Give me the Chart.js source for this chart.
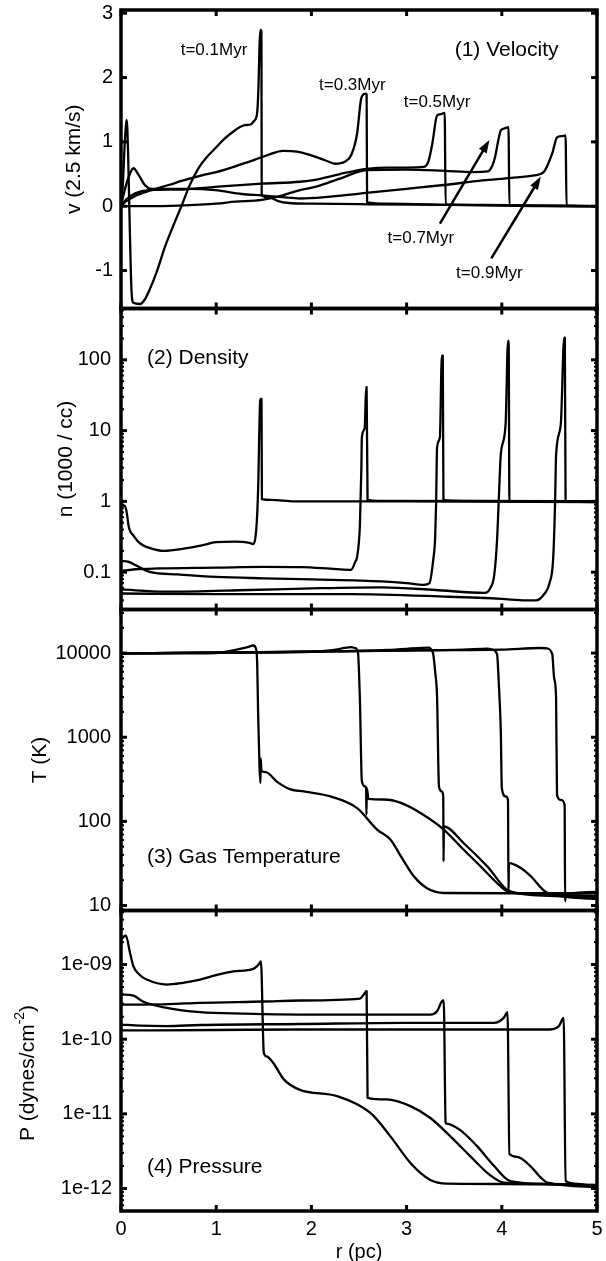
<!DOCTYPE html>
<html>
<head>
<meta charset="utf-8">
<title>Expansion profiles</title>
<script src="https://cdn.jsdelivr.net/npm/chart.js@4.4.1/dist/chart.umd.min.js"></script>
<style>
  html, body { margin:0; padding:0; background:#ffffff; }
  #wrap { position:relative; width:606px; height:1261px; overflow:hidden; background:#fff; }
  #wrap canvas { position:absolute; left:0; top:0; }
</style>
</head>
<body>
<div id="wrap">
  <canvas id="cVel" width="606" height="1261"></canvas>
  <canvas id="cDen" width="606" height="1261"></canvas>
  <canvas id="cTem" width="606" height="1261"></canvas>
  <canvas id="cPre" width="606" height="1261"></canvas>
</div>
<script>
// ---------------- data ----------------
const timeLabels = ['t=0.1Myr','t=0.3Myr','t=0.5Myr','t=0.7Myr','t=0.9Myr'];
const panelLabels = ['(1) Velocity','(2) Density','(3) Gas Temperature','(4) Pressure'];
const xTicks = [0,1,2,3,4,5];
const vTicks = [-1,0,1,2,3];
const vTickLabels = ['-1','0','1','2','3'];
const nTicks = [0.1,1,10,100];
const nTickLabels = ['0.1','1','10','100'];
const TTicks = [10,100,1000,10000];
const TTickLabels = ['10','100','1000','10000'];
const PTicks = [1e-12,1e-11,1e-10,1e-9];
const PTickLabels = ['1e-12','1e-11','1e-10','1e-09'];

// velocity (units of 2.5 km/s) vs r (pc)
const vel01 = [[0,0],[0.02,0.35],[0.04,1.0],[0.06,1.34],[0.075,0.8],[0.09,-0.2],[0.11,-1.3],[0.13,-1.5],[0.2,-1.52],[0.25,-1.45],[0.3,-1.3],[0.38,-1.0],[0.46,-0.64],[0.55,-0.3],[0.64,0.02],[0.72,0.32],[0.81,0.58],[0.9,0.76],[0.99,0.9],[1.08,1.04],[1.17,1.15],[1.25,1.23],[1.3,1.26],[1.36,1.27],[1.4,1.33],[1.43,1.45],[1.445,1.9],[1.455,2.5],[1.465,2.74],[1.475,2.72],[1.478,0.17],[1.55,0.14],[1.65,0.08],[1.76,0.05],[2.0,0.04],[2.6,0.03],[3.4,0.02],[4.1,0.01],[5,0]];
const vel03 = [[0,0],[0.05,0.07],[0.15,0.16],[0.3,0.24],[0.5,0.33],[0.7,0.42],[0.85,0.48],[1.0,0.53],[1.2,0.62],[1.4,0.72],[1.55,0.8],[1.7,0.86],[1.85,0.85],[2.0,0.79],[2.15,0.71],[2.25,0.66],[2.35,0.69],[2.42,0.8],[2.48,1.13],[2.52,1.65],[2.54,1.73],[2.57,1.75],[2.58,1.74],[2.585,0.06],[2.8,0.04],[3.5,0.02],[4.2,0.01],[5,0]];
const vel05 = [[0,0],[0.05,0.1],[0.15,0.2],[0.29,0.25],[0.64,0.26],[0.99,0.3],[1.48,0.35],[1.88,0.38],[2.04,0.41],[2.3,0.5],[2.58,0.58],[2.8,0.6],[3.0,0.6],[3.18,0.61],[3.23,0.7],[3.27,0.97],[3.32,1.41],[3.36,1.43],[3.4,1.45],[3.41,0.03],[3.8,0.02],[4.4,0.01],[5,0]];
const vel07 = [[0,0],[0.3,0.0],[0.6,0.01],[1.0,0.04],[1.2,0.07],[1.48,0.1],[1.7,0.17],[1.88,0.25],[2.04,0.3],[2.3,0.43],[2.58,0.56],[3.0,0.57],[3.4,0.55],[3.7,0.53],[3.85,0.54],[3.9,0.63],[3.93,0.77],[3.96,1.0],[3.99,1.18],[4.03,1.21],[4.07,1.23],[4.08,0.01],[5,0]];
const vel09 = [[0,0],[0.03,0.2],[0.08,0.45],[0.13,0.59],[0.18,0.5],[0.25,0.33],[0.32,0.27],[0.5,0.27],[0.71,0.27],[0.99,0.25],[1.27,0.19],[1.48,0.17],[1.7,0.14],[1.88,0.12],[2.2,0.15],[2.6,0.21],[3.0,0.27],[3.39,0.33],[3.8,0.4],[4.1,0.44],[4.34,0.48],[4.44,0.53],[4.53,0.82],[4.58,1.07],[4.63,1.09],[4.67,1.1],[4.68,0.01],[5,0]];

// density (1000 / cc)
const den01 = [[0,0.82],[0.02,0.86],[0.04,0.87],[0.06,0.7],[0.08,0.45],[0.1,0.37],[0.13,0.33],[0.18,0.27],[0.23,0.24],[0.3,0.22],[0.45,0.2],[0.66,0.215],[0.85,0.24],[1.0,0.265],[1.2,0.27],[1.35,0.26],[1.39,0.25],[1.425,0.48],[1.44,1.43],[1.462,26],[1.47,28],[1.476,28],[1.48,1.08],[1.58,1.05],[1.82,1.0],[3.0,1.0],[5,0.98]];
const den03 = [[0,0.104],[0.15,0.11],[0.4,0.113],[1.0,0.116],[1.5,0.119],[1.9,0.118],[2.2,0.112],[2.39,0.108],[2.42,0.109],[2.46,0.14],[2.48,0.165],[2.51,0.48],[2.525,3],[2.53,8],[2.56,11],[2.575,41],[2.58,41],[2.59,1.05],[2.7,1.02],[5,1.0]];
const den05 = [[0,0.144],[0.08,0.14],[0.18,0.12],[0.3,0.101],[0.6,0.093],[1.0,0.086],[1.5,0.082],[2.0,0.079],[2.74,0.074],[3.0,0.07],[3.18,0.066],[3.24,0.07],[3.28,0.15],[3.3,0.31],[3.31,0.93],[3.32,5.8],[3.35,8.1],[3.37,115],[3.38,115],[3.387,1.05],[3.6,1.02],[5,1.0]];
const den07 = [[0,0.057],[0.46,0.053],[1.34,0.056],[2.0,0.059],[2.74,0.061],[3.3,0.056],[3.82,0.051],[3.88,0.06],[3.92,0.09],[3.95,0.28],[3.97,1.2],[3.99,4.7],[4.04,12.4],[4.065,185],[4.072,185],[4.08,1.0],[5,1.0]];
const den09 = [[0,0.05],[1.0,0.049],[2.4,0.049],[3.44,0.045],[4.0,0.042],[4.25,0.04],[4.36,0.04],[4.45,0.05],[4.5,0.069],[4.54,0.16],[4.56,1.0],[4.57,4.45],[4.62,12.4],[4.655,205],[4.662,205],[4.67,1.0],[5,0.98]];

// gas temperature (K)
const tem01 = [[0,9900],[0.5,9900],[1.0,10000],[1.18,10800],[1.32,11700],[1.39,12300],[1.415,11500],[1.43,8000],[1.44,2000],[1.448,900],[1.455,450],[1.465,285],[1.468,560],[1.475,400],[1.52,385],[1.64,295],[1.78,240],[1.92,227],[2.2,198],[2.48,144],[2.69,80],[2.83,61],[2.94,38.5],[3.08,22],[3.21,16.2],[3.39,14.1],[4.0,14],[5,14]];
const tem03 = [[0,9900],[1.0,10100],[1.92,10300],[2.2,10800],[2.35,11500],[2.41,11800],[2.46,11500],[2.49,10000],[2.5,6000],[2.51,2700],[2.53,300],[2.565,260],[2.575,240],[2.578,120],[2.582,250],[2.6,185],[2.76,182],[2.94,166],[3.15,125],[3.39,80],[3.6,46],[3.78,29],[3.95,18.5],[4.08,14.4],[4.5,13.5],[5,13]];
const tem05 = [[0,9900],[1.0,10100],[2.0,10400],[2.8,10900],[3.15,11500],[3.23,11600],[3.27,10500],[3.28,9700],[3.3,6000],[3.32,3000],[3.34,260],[3.37,227],[3.385,200],[3.388,33.5],[3.392,87],[3.6,55],[3.85,29],[4.08,14.8],[4.5,13],[5,12.5]];
const tem07 = [[0,9900],[2.0,10400],[3.0,10700],[3.6,11000],[3.85,11300],[3.9,11000],[3.95,9700],[3.97,4000],[3.99,1120],[4.0,250],[4.04,198],[4.065,180],[4.07,14],[4.075,32],[4.2,28],[4.31,22],[4.45,14.8],[4.6,13],[5,12]];
const tem09 = [[0,9900],[2.0,10400],[3.0,10800],[4.0,11000],[4.4,11500],[4.47,11400],[4.53,9700],[4.55,5000],[4.57,3000],[4.58,205],[4.62,180],[4.66,157],[4.665,11.2],[4.67,13.5],[5,14.5]];

// pressure (dynes / cm^2)
const pre01 = [[0,2.16e-9],[0.05,2.45e-9],[0.095,1.43e-9],[0.13,0.95e-9],[0.2,0.72e-9],[0.27,0.63e-9],[0.48,0.54e-9],[0.65,0.57e-9],[0.83,0.63e-9],[1.0,0.72e-9],[1.18,0.81e-9],[1.39,0.875e-9],[1.445,1.0e-9],[1.47,1.1e-9],[1.5,6.6e-11],[1.53,5.9e-11],[1.6,4.8e-11],[1.71,2.9e-11],[1.88,2.1e-11],[2.27,1.73e-11],[2.62,1.03e-11],[2.83,5.0e-12],[3.04,2.2e-12],[3.25,1.3e-12],[3.42,1.16e-12],[4.0,1.15e-12],[5,1.12e-12]];
const pre03 = [[0,2.9e-10],[0.5,2.95e-10],[0.83,3.07e-10],[1.5,3.2e-10],[1.88,3.3e-10],[2.51,3.5e-10],[2.55,3.97e-10],[2.58,4.4e-10],[2.59,1.64e-11],[2.79,1.56e-11],[3.04,1.27e-11],[3.25,8.8e-12],[3.46,5.0e-12],[3.67,2.7e-12],[3.88,1.5e-12],[4.02,1.2e-12],[4.5,1.15e-12],[5,1.1e-12]];
const pre05 = [[0,3.97e-10],[0.13,3.84e-10],[0.23,3.2e-10],[0.48,2.63e-10],[0.83,2.3e-10],[1.3,2.2e-10],[1.88,2.14e-10],[2.6,2.14e-10],[3.25,2.14e-10],[3.32,2.37e-10],[3.37,3.2e-10],[3.39,3.3e-10],[3.41,7.6e-12],[3.42,7.4e-12],[3.56,6.1e-12],[3.74,3.7e-12],[3.92,2.0e-12],[4.09,1.26e-12],[4.5,1.15e-12],[5,1.1e-12]];
const pre07 = [[0,1.57e-10],[0.2,1.52e-10],[0.48,1.5e-10],[0.83,1.55e-10],[1.88,1.6e-10],[2.97,1.66e-10],[3.92,1.66e-10],[4.02,1.93e-10],[4.06,2.3e-10],[4.08,2.9e-12],[4.16,2.66e-12],[4.3,2.0e-12],[4.41,1.4e-12],[4.48,1.2e-12],[5,1.05e-12]];
const pre09 = [[0,1.31e-10],[1.0,1.33e-10],[1.88,1.35e-10],[3.0,1.35e-10],[4.51,1.35e-10],[4.6,1.5e-10],[4.65,1.93e-10],[4.67,1.26e-12],[4.8,1.15e-12],[5,1.0e-12]];

// ---------------- layout ----------------
const FONT = "'Liberation Sans', Arial, Helvetica, sans-serif";
const W = 606, H = 1261, PLOT_L = 121, PLOT_R = 597;
const panelBox = [[10, 308.5], [308.5, 609.5], [609.5, 910.5], [910.5, 1211]];

const frame = {
  id: 'frame',
  afterDatasetsDraw(chart, args, opts) {
    const { ctx, chartArea: a } = chart;
    const xs = chart.scales.x, ys = chart.scales.y;
    const seg = (x1, y1, x2, y2) => { ctx.beginPath(); ctx.moveTo(x1, y1); ctx.lineTo(x2, y2); ctx.stroke(); };
    ctx.save();
    ctx.strokeStyle = '#000';
    ctx.lineWidth = 3;
    xTicks.forEach(v => {
      const p = xs.getPixelForValue(v);
      seg(p, a.top, p, a.top + 6);
      seg(p, a.bottom, p, a.bottom - 6);
    });
    (opts.major || []).forEach(v => {
      const p = ys.getPixelForValue(v);
      seg(a.left, p, a.left + 6, p);
      seg(a.right, p, a.right - 6, p);
    });
    if (ys.type === 'logarithmic') {
      ctx.lineWidth = 2;
      const lo = Math.floor(Math.log10(ys.min)), hi = Math.ceil(Math.log10(ys.max));
      for (let d = lo; d <= hi; d++) {
        for (let k = 2; k <= 9; k++) {
          const v = k * Math.pow(10, d);
          if (v <= ys.min || v >= ys.max) continue;
          const p = ys.getPixelForValue(v);
          seg(a.left, p, a.left + 3, p);
          seg(a.right, p, a.right - 3, p);
        }
      }
    }
    ctx.lineWidth = 3.5;
    ctx.strokeRect(a.left, a.top, a.right - a.left, a.bottom - a.top);
    ctx.restore();
  }
};

const notes = {
  id: 'notes',
  afterDatasetsDraw(chart, args, opts) {
    const { ctx } = chart;
    const xs = chart.scales.x, ys = chart.scales.y;
    ctx.save();
    ctx.fillStyle = '#000';
    ctx.strokeStyle = '#000';
    ctx.textBaseline = 'middle';
    (opts.texts || []).forEach(t => {
      ctx.font = t.font;
      ctx.textAlign = t.align || 'left';
      ctx.fillText(t.text, xs.getPixelForValue(t.x), ys.getPixelForValue(t.y));
    });
    (opts.arrows || []).forEach(ar => {
      const x0 = xs.getPixelForValue(ar.from[0]), y0 = ys.getPixelForValue(ar.from[1]);
      const x1 = xs.getPixelForValue(ar.to[0]), y1 = ys.getPixelForValue(ar.to[1]);
      const ang = Math.atan2(y1 - y0, x1 - x0), c = Math.cos(ang), s = Math.sin(ang);
      const hl = 13, hw = 4.5;
      ctx.lineWidth = 2.5;
      ctx.beginPath(); ctx.moveTo(x0, y0); ctx.lineTo(x1 - hl * 0.8 * c, y1 - hl * 0.8 * s); ctx.stroke();
      ctx.beginPath();
      ctx.moveTo(x1, y1);
      ctx.lineTo(x1 - hl * c + hw * s, y1 - hl * s - hw * c);
      ctx.lineTo(x1 - hl * c - hw * s, y1 - hl * s + hw * c);
      ctx.closePath(); ctx.fill();
    });
    if (opts.supTitle) {
      const t = opts.supTitle;
      ctx.translate(t.cx, t.cy);
      ctx.rotate(-Math.PI / 2);
      ctx.textAlign = 'left';
      const big = '21px ' + FONT, small = '14px ' + FONT;
      ctx.font = big;
      const w1 = ctx.measureText(t.main).width, w3 = ctx.measureText(t.tail).width;
      ctx.font = small;
      const w2 = ctx.measureText(t.sup).width;
      let x = -(w1 + w2 + w3) / 2;
      ctx.font = big; ctx.fillText(t.main, x, 0); x += w1;
      ctx.font = small; ctx.fillText(t.sup, x, -8); x += w2;
      ctx.font = big; ctx.fillText(t.tail, x, 0);
    }
    ctx.restore();
  }
};

function makePanel(canvasId, idx, cfg) {
  const [top, bottom] = panelBox[idx];
  const last = idx === 3;
  const xAxisH = last ? 50 : 0;
  return new Chart(document.getElementById(canvasId), {
    type: 'line',
    data: {
      datasets: cfg.series.map((s, i) => ({
        label: timeLabels[i],
        data: s.map(p => ({ x: p[0], y: p[1] })),
        borderColor: '#000',
        borderWidth: 2.3,
        pointRadius: 0,
        cubicInterpolationMode: 'monotone',
        fill: false,
        borderJoinStyle: 'round',
        borderCapStyle: 'round'
      }))
    },
    options: {
      responsive: false,
      animation: false,
      devicePixelRatio: 1,
      events: [],
      layout: { padding: { left: 0, right: W - PLOT_R, top: top, bottom: H - bottom - xAxisH } },
      plugins: {
        legend: { display: false },
        tooltip: { enabled: false },
        frame: { major: cfg.yTicks },
        notes: cfg.notes
      },
      scales: {
        x: {
          type: 'linear', min: 0, max: 5, position: 'bottom',
          grid: { display: false, drawTicks: false },
          border: { display: false },
          ticks: { display: last, padding: 6, autoSkip: false, maxRotation: 0, color: '#000',
                   font: { family: FONT, size: 20 }, callback: v => String(v) },
          afterBuildTicks: s => { s.ticks = xTicks.map(v => ({ value: v })); },
          afterFit: s => { s.height = xAxisH; s.paddingLeft = 0; s.paddingRight = 0; },
          title: { display: last, text: 'r (pc)', color: '#000',
                   font: { family: FONT, size: 20, lineHeight: 1 }, padding: { top: 0, bottom: -1 } }
        },
        y: {
          type: cfg.yType, min: cfg.yMin, max: cfg.yMax, position: 'left',
          grid: { display: false, drawTicks: false },
          border: { display: false },
          ticks: { padding: cfg.tickPad, autoSkip: false, color: '#000',
                   font: { family: FONT, size: 20 },
                   callback: (v, i) => cfg.yLabels[i] },
          afterBuildTicks: s => { s.ticks = cfg.yTicks.map(v => ({ value: v })); },
          afterFit: s => { s.width = PLOT_L; s.paddingTop = 0; s.paddingBottom = 0; },
          title: cfg.yTitle
            ? { display: true, text: cfg.yTitle, color: '#000',
                font: { family: FONT, size: 21, lineHeight: 1 }, padding: { top: cfg.titlePad, bottom: 0 } }
            : { display: false }
        }
      }
    },
    plugins: [frame, notes]
  });
}

const tFont = '17px ' + FONT, pFont = '21px ' + FONT;

makePanel('cVel', 0, {
  series: [vel01, vel03, vel05, vel07, vel09],
  yType: 'linear', yMin: -1.59, yMax: 3.05,
  yTicks: vTicks, yLabels: vTickLabels, tickPad: 8,
  yTitle: 'v (2.5 km/s)', titlePad: 64,
  notes: {
    texts: [
      { text: panelLabels[0], x: 3.505, y: 2.43, align: 'left', font: pFont },
      { text: timeLabels[0], x: 0.977, y: 2.43, align: 'center', font: tFont },
      { text: timeLabels[1], x: 2.43, y: 1.88, align: 'center', font: tFont },
      { text: timeLabels[2], x: 3.32, y: 1.62, align: 'center', font: tFont },
      { text: timeLabels[3], x: 3.15, y: -0.50, align: 'center', font: tFont },
      { text: timeLabels[4], x: 3.87, y: -1.04, align: 'center', font: tFont }
    ],
    arrows: [
      { from: [3.35, -0.27], to: [3.87, 1.03] },
      { from: [3.89, -0.81], to: [4.41, 0.46] }
    ]
  }
});

makePanel('cDen', 1, {
  series: [den01, den03, den05, den07, den09],
  yType: 'logarithmic', yMin: 0.0297, yMax: 531,
  yTicks: nTicks, yLabels: nTickLabels, tickPad: 10,
  yTitle: 'n (1000 / cc)', titlePad: 56,
  notes: { texts: [{ text: panelLabels[1], x: 0.273, y: 104, align: 'left', font: pFont }] }
});

makePanel('cTem', 2, {
  series: [tem01, tem03, tem05, tem07, tem09],
  yType: 'logarithmic', yMin: 8.73, yMax: 32960,
  yTicks: TTicks, yLabels: TTickLabels, tickPad: 10,
  yTitle: 'T (K)', titlePad: 30,
  notes: { texts: [{ text: panelLabels[2], x: 0.273, y: 38, align: 'left', font: pFont }] }
});

makePanel('cPre', 3, {
  series: [pre01, pre03, pre05, pre07, pre09],
  yType: 'logarithmic', yMin: 5.0e-13, yMax: 5.3e-9,
  yTicks: PTicks, yLabels: PTickLabels, tickPad: 9,
  yTitle: null, titlePad: 0,
  notes: {
    texts: [{ text: panelLabels[3], x: 0.273, y: 1.95e-12, align: 'left', font: pFont }],
    supTitle: { main: 'P (dynes/cm', sup: '-2', tail: ')', cx: 28, cy: 1073 }
  }
});
</script>
</body>
</html>
